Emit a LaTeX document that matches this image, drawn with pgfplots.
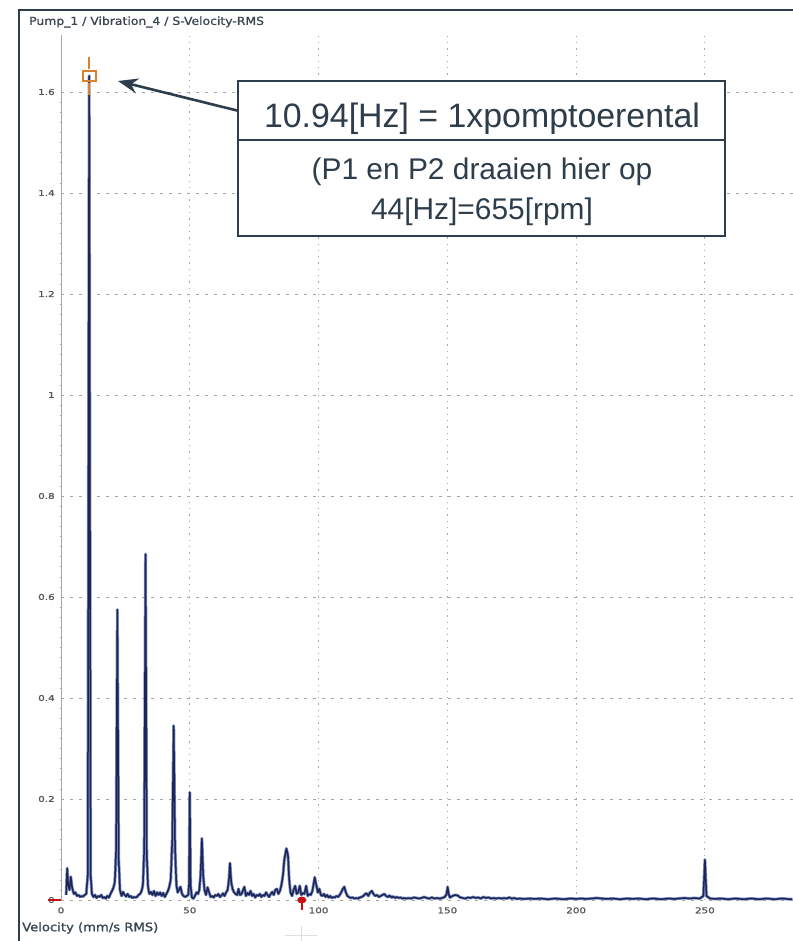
\documentclass[border=0pt]{standalone}
\usepackage{pgfplots}
\pgfplotsset{compat=1.18}
\usepackage{pgfplotstable}
\usetikzlibrary{arrows.meta}
\usepackage{fontspec}
\setmainfont{Liberation Sans}
\newfontfamily\tickfont[FakeStretch=1.3, FakeBold=1.2]{DejaVu Sans}
\newfontfamily\labfont[FakeStretch=1.12, FakeBold=1.2]{DejaVu Sans}
\definecolor{boxc}{HTML}{2E3D4B}
\definecolor{navy}{HTML}{1B2558}
\definecolor{glow}{HTML}{7F8EC0}
\definecolor{ticklab}{HTML}{555555}
\definecolor{gridc}{HTML}{A8A8A8}
\definecolor{cursorred}{HTML}{C8101A}
\definecolor{cursororange}{HTML}{D9822B}

\pgfplotstableread{
f v
2.0 0.010
2.4 0.063
2.8 0.030
3.3 0.020
3.8 0.046
4.3 0.025
5.0 0.012
5.6 0.015
6.2 0.008
6.8 0.010
7.4 0.006
8.0 0.008
8.6 0.007
9.2 0.010
9.8 0.012
10.4 0.050
10.94 1.632
11.5 0.050
12.0 0.012
12.6 0.006
13.2 0.010
13.8 0.004
14.4 0.008
15.0 0.006
15.6 0.010
16.2 0.004
16.8 0.006
17.4 0.003
18.0 0.008
18.6 0.005
19.2 0.012
19.8 0.018
20.4 0.025
20.9 0.036
21.4 0.100
21.88 0.575
22.4 0.080
22.9 0.020
23.5 0.008
24.1 0.016
24.7 0.010
25.3 0.007
25.9 0.012
26.5 0.006
27.1 0.008
27.7 0.004
28.3 0.006
28.9 0.005
29.5 0.006
30.1 0.010
30.7 0.012
31.3 0.018
31.8 0.030
32.3 0.100
32.82 0.685
33.3 0.090
33.8 0.025
34.3 0.012
34.9 0.016
35.5 0.010
36.1 0.018
36.7 0.008
37.3 0.015
37.9 0.010
38.5 0.015
39.1 0.008
39.7 0.014
40.3 0.006
40.9 0.012
41.5 0.018
42.0 0.025
42.6 0.040
43.2 0.120
43.76 0.345
44.3 0.100
44.8 0.030
45.3 0.015
45.8 0.020
46.4 0.026
47.0 0.012
47.6 0.008
48.2 0.006
48.8 0.008
49.4 0.010
49.7 0.030
50.0 0.213
50.3 0.030
50.8 0.005
51.4 0.003
52.0 0.008
52.6 0.015
53.2 0.012
53.7 0.020
54.2 0.050
54.7 0.122
55.2 0.050
55.7 0.020
56.3 0.010
56.9 0.025
57.5 0.015
58.1 0.006
58.7 0.008
59.3 0.005
59.9 0.010
60.5 0.008
61.1 0.012
61.7 0.006
62.3 0.009
62.9 0.013
63.5 0.008
64.1 0.015
64.7 0.020
65.2 0.040
65.6 0.073
66.1 0.035
66.6 0.022
67.2 0.015
67.8 0.012
68.4 0.010
68.9 0.022
69.5 0.010
70.1 0.012
70.7 0.020
71.2 0.026
71.8 0.008
72.4 0.014
73.0 0.010
73.6 0.018
74.2 0.008
74.8 0.012
75.4 0.005
76.0 0.010
76.6 0.008
77.2 0.012
77.8 0.006
78.4 0.010
79.0 0.008
79.6 0.015
80.2 0.010
80.8 0.006
81.4 0.012
82.0 0.016
82.6 0.010
83.2 0.020
83.8 0.022
84.4 0.012
85.0 0.018
85.6 0.030
86.2 0.050
86.7 0.080
87.5 0.102
88.1 0.090
88.6 0.040
89.1 0.015
89.7 0.008
90.3 0.020
90.9 0.028
91.5 0.012
92.1 0.015
92.7 0.028
93.3 0.010
93.9 0.014
94.5 0.012
95.2 0.028
95.8 0.008
96.4 0.012
97.0 0.010
97.6 0.018
98.2 0.035
98.5 0.045
99.1 0.030
99.7 0.015
100.3 0.022
100.9 0.010
101.5 0.008
102.1 0.012
102.7 0.006
103.3 0.010
103.9 0.005
104.5 0.008
105.1 0.004
105.7 0.006
106.3 0.005
107.0 0.008
107.6 0.006
108.2 0.010
108.8 0.015
109.4 0.022
110.0 0.026
110.6 0.015
111.2 0.008
111.8 0.006
112.5 0.004
113.2 0.005
113.9 0.003
114.6 0.004
115.3 0.003
116.0 0.005
116.7 0.006
117.4 0.008
118.1 0.012
118.7 0.013
119.3 0.008
120.0 0.015
120.7 0.018
121.3 0.012
122.0 0.008
122.7 0.010
123.4 0.006
124.1 0.008
124.8 0.010
125.5 0.012
126.2 0.008
126.9 0.006
127.6 0.009
128.3 0.005
129.0 0.007
129.7 0.004
130.4 0.006
131.1 0.004
131.8 0.005
132.5 0.003
133.2 0.004
134 0.003
135 0.004
136 0.003
137 0.005
138 0.004
139 0.003
140 0.004
141 0.006
142 0.004
143 0.003
144 0.005
145 0.003
146 0.004
147 0.003
148 0.004
149 0.006
149.7 0.012
150.1 0.026
150.5 0.012
151 0.005
152 0.008
153 0.010
154 0.009
155 0.005
156 0.004
157 0.003
158 0.005
159 0.004
160 0.006
161 0.004
162 0.005
163 0.003
164 0.006
165 0.004
166 0.005
167 0.003
168 0.004
169 0.003
170 0.004
171 0.003
172 0.004
173 0.003
174 0.005
175 0.003
176 0.004
177 0.002
178 0.003
180 0.002
182 0.003
184 0.002
186 0.003
188 0.002
190 0.002
192 0.003
194 0.002
196 0.002
198 0.003
200 0.002
202 0.003
204 0.002
206 0.003
208 0.004
210 0.003
212 0.002
214 0.003
216 0.002
218 0.002
220 0.003
222 0.002
224 0.003
226 0.002
228 0.002
230 0.003
232 0.002
234 0.002
236 0.003
238 0.002
240 0.003
242 0.004
244 0.003
246 0.004
248 0.003
249.4 0.008
250.0 0.080
250.6 0.008
252 0.003
254 0.002
256 0.003
258 0.002
260 0.002
262 0.003
264 0.002
266 0.002
268 0.003
270 0.002
272 0.002
274 0.003
276 0.002
278 0.002
280 0.003
282 0.002
284 0.002
}\spec

\begin{document}
\begin{tikzpicture}
\path[use as bounding box] (0,0) rectangle (793bp,-941bp);
% outer frame
\draw[boxc, line width=2bp] (19bp,-941bp) -- (19bp,-10bp) -- (793bp,-10bp);
\begin{axis}[
  at={(61bp,-900bp)}, anchor=south west,
  scale only axis, width=732bp, height=865bp,
  xmin=0, xmax=284.2, ymin=0, ymax=1.7129,
  axis lines=left,
  axis line style={-},
  x axis line style={draw=none},
  y axis line style={gray!70, line width=0.8bp},
  xtick={0,50,100,150,200,250},
  ytick={0,0.2,0.4,0.6,0.8,1,1.2,1.4,1.6},
  minor y tick num=9,
  major x tick style={draw=none},
  major y tick style={draw=none},
  minor y tick style={gray!70, line width=0.5bp},
  minor tick length=2bp,
  grid=major,
  x grid style={gridc, line width=0.9bp, dash pattern=on 1.3bp off 5bp},
  y grid style={gridc, line width=0.9bp, dash pattern=on 3bp off 6bp},
  /pgf/number format/assume math mode=true,
  ticklabel style={font=\tickfont\fontsize{8}{9}\selectfont, text=ticklab, inner sep=0pt},
  yticklabel style={anchor=east, xshift=-4bp},
  xticklabel style={anchor=north, yshift=-5bp},
  clip=false,
]
\addplot[glow, line width=3bp, line join=round] table[x=f, y=v] {\spec};
\addplot[navy, line width=1.5bp, line join=round] table[x=f, y=v] {\spec};
% cursor markers
\draw[cursororange, line width=1.5bp] (axis cs:10.94,1.669) -- (axis cs:10.94,1.645);
\draw[cursororange, line width=1.5bp] (axis cs:10.94,1.618) -- (axis cs:10.94,1.594);
\draw[cursororange, line width=1.8bp] ([xshift=-6.5bp,yshift=-5bp]axis cs:10.94,1.632) rectangle ([xshift=6.5bp,yshift=5bp]axis cs:10.94,1.632);
\draw[cursorred, line width=1.6bp] (axis cs:93.5,0) -- ([yshift=-10bp]axis cs:93.5,0);
\fill[cursorred] (axis cs:93.5,0) ellipse (4.5bp and 3.5bp);
\draw[cursorred, line width=1.2bp] ([xshift=-13bp]axis cs:0,0) -- (axis cs:0,0);
\end{axis}
% faint crosshair
\draw[gray!25, line width=1bp] (285bp,-935bp) -- (317bp,-935bp);
\draw[gray!25, line width=1bp] (301bp,-926bp) -- (301bp,-941bp);
% titles
\node[anchor=west, inner sep=0pt, text=boxc!85!gray] at (29bp,-22bp) {\labfont\fontsize{11.1}{12}\selectfont Pump\_1 / Vibration\_4 / S-Velocity-RMS};
\node[anchor=west, inner sep=0pt, text=boxc!85!gray] at (22bp,-928bp) {\labfont\fontsize{11.8}{13}\selectfont Velocity (mm/s RMS)};
% annotation
\draw[-{Stealth[length=20bp,width=15bp]}, line width=2.6bp, boxc] (239bp,-111bp) -- (118bp,-81bp);
\draw[line width=1.6bp, boxc, fill=white] (238bp,-81bp) rectangle (725bp,-236bp);
\draw[line width=1.6bp, boxc] (238bp,-140bp) -- (725bp,-140bp);
\node[anchor=base, inner sep=0pt, text=boxc] at (482bp,-127bp) {\fontsize{34}{40}\selectfont 10.94[Hz] = 1xpomptoerental};
\node[anchor=base, inner sep=0pt, text=boxc] at (482bp,-179bp) {\fontsize{30}{36}\selectfont (P1 en P2 draaien hier op};
\node[anchor=base, inner sep=0pt, text=boxc] at (482bp,-219bp) {\fontsize{30}{36}\selectfont 44[Hz]=655[rpm]};
\end{tikzpicture}
\end{document}
